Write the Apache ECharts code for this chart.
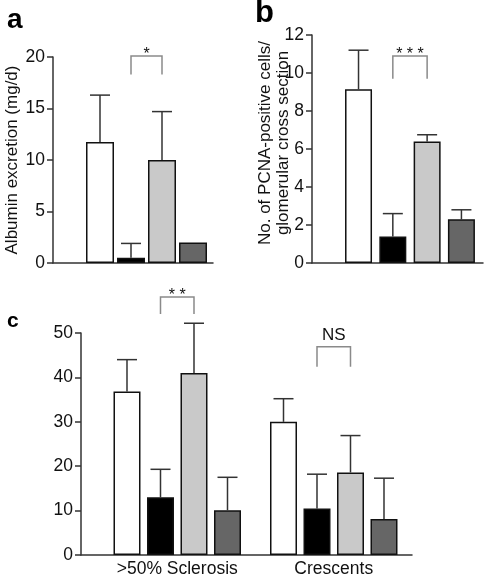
<!DOCTYPE html>
<html><head><meta charset="utf-8">
<script src="https://cdn.jsdelivr.net/npm/echarts@6/dist/echarts.min.js"></script>
<style>html,body{margin:0;padding:0;background:#fff}#c{width:490px;height:578px}</style>
</head><body><div id="c"></div>
<script>
// ---- data ----
const treatments = ['Group 1', 'Group 2', 'Group 3', 'Group 4'];
const albuminMean = [11.75, 0.5, 10.0, 2.0];
const albuminErr  = [4.55, 1.4, 4.7, 0];
const pcnaMean = [9.15, 1.4, 6.4, 2.3];
const pcnaErr  = [2.05, 1.2, 0.35, 0.5];
const cCategories = ['>50% Sclerosis', 'Crescents'];
const sclerosisMean = [36.8, 13.0, 41.0, 10.1];
const sclerosisErr  = [7.2, 6.3, 11.2, 7.4];
const crescentsMean = [30.0, 10.5, 18.6, 8.1];
const crescentsErr  = [5.2, 7.7, 8.3, 9.2];
const yTicksA = [0, 20, 5];
const yTicksB = [0, 12, 2];
const yTicksC = [0, 50, 10];
// significance brackets: [group, leftBar, rightBar, top, legBottom]
const sigA = [[0, 1, 2, 20.1, 18.3]]; const sigALabels = ['*'];
const sigB = [[0, 1, 2, 10.9, 9.7]]; const sigBLabels = ['* * *'];
const sigC = [[0, 1, 2, 58.1, 54.3], [1, 1, 2, 46.9, 42.4]]; const sigCLabels = ['* *', 'NS'];

// ---- style ----
const FONT = 'Liberation Sans, Arial, Helvetica, sans-serif';
const barColors = ['#ffffff', '#000000', '#c9c9c9', '#666666'];
const axisColor = '#333';
const panels = [
  { grid: {left: 53, top: 57, width: 160, height: 206}, xMin: -0.935, xMax: 0.665, bw: 28, gap: 3/28,
    means: [albuminMean], errs: [albuminErr], yt: yTicksA, sig: sigA, sigLabels: sigALabels,
    name: 'Albumin excretion (mg/d)', nameGap: 31, nameSize: 17, nameLH: 20, namePad: [0, 0, 0, 0] },
  { grid: {left: 312, top: 35, width: 171, height: 228}, xMin: -0.4025, xMax: 0.3, bw: 27, gap: 7.3/27,
    means: [pcnaMean], errs: [pcnaErr], yt: yTicksB, sig: sigB, sigLabels: sigBLabels,
    name: 'No. of PCNA-positive cells/\nglomerular cross section', nameGap: 20, nameSize: 17, nameLH: 18, namePad: [0, 0, 0, 12] },
  { grid: {left: 81, top: 333, width: 331, height: 223}, xMin: -0.615, xMax: 1.5, bw: 27, gap: 6.5/27,
    means: [sclerosisMean, crescentsMean], errs: [sclerosisErr, crescentsErr], yt: yTicksC, sig: sigC, sigLabels: sigCLabels,
    name: '', nameGap: 0, nameSize: 17, nameLH: 20, namePad: [0, 0, 0, 0], cats: cCategories }
];

const grid = [], xAxis = [], yAxis = [], series = [];
panels.forEach((p, pi) => {
  grid.push(Object.assign({containLabel: false}, p.grid));
  const xa = {
    gridIndex: pi, type: 'value', min: p.xMin, max: p.xMax,
    axisLine: {show: true, onZero: false, lineStyle: {color: axisColor, width: 1.5}},
    axisTick: {show: false}, splitLine: {show: false},
    axisLabel: {show: false}
  };
  if (p.cats) {
    xa.axisLabel = {show: true, customValues: p.cats.map((c, i) => i),
      formatter: v => p.cats[Math.round(v)], fontSize: 17.5, color: '#111', fontFamily: FONT, margin: 5};
  }
  xAxis.push(xa);
  yAxis.push({
    gridIndex: pi, type: 'value', min: p.yt[0], max: p.yt[1], interval: p.yt[2],
    axisLine: {show: true, onZero: false, lineStyle: {color: axisColor, width: 1.5}},
    axisTick: {show: true, length: 6, lineStyle: {color: axisColor, width: 1.5}},
    axisLabel: {fontSize: 17.5, color: '#111', fontFamily: FONT, margin: 8},
    splitLine: {show: false},
    name: p.name, nameLocation: 'middle', nameGap: p.nameGap, nameMoveOverlap: false,
    nameTextStyle: {fontSize: p.nameSize, color: '#111', fontFamily: FONT, lineHeight: p.nameLH, padding: p.namePad}
  });
  const pitch = p.bw * (1 + p.gap);
  treatments.forEach((t, j) => {
    series.push({
      type: 'bar', name: t, xAxisIndex: pi, yAxisIndex: pi,
      barWidth: p.bw, barGap: (p.gap * 100) + '%',
      data: p.means.map((m, g) => [g, m[j]]),
      itemStyle: {color: barColors[j], borderColor: '#111', borderWidth: 1.5},
      z: 2
    });
  });
  // error bars
  const errData = [];
  p.means.forEach((m, g) => m.forEach((v, j) => errData.push([g, j, v, p.errs[g][j]])));
  series.push({
    type: 'custom', xAxisIndex: pi, yAxisIndex: pi, z: 1, clip: false,
    data: errData,
    renderItem: (params, api) => {
      const g = api.value(0), j = api.value(1), v = api.value(2), e = api.value(3);
      if (!(e > 0)) return null;
      const off = (j - 1.5) * pitch;
      const base = api.coord([g, v]);
      const top = api.coord([g, v + e]);
      const x = base[0] + off;
      const half = 10;
      const st = {stroke: '#333', lineWidth: 1.5};
      return {type: 'group', children: [
        {type: 'line', shape: {x1: x, y1: base[1], x2: x, y2: top[1]}, style: st},
        {type: 'line', shape: {x1: x - half, y1: top[1], x2: x + half, y2: top[1]}, style: st}
      ]};
    },
    encode: {x: 0, y: 2}
  });
  // significance brackets
  series.push({
    type: 'custom', xAxisIndex: pi, yAxisIndex: pi, z: 3, clip: false,
    data: p.sig,
    renderItem: (params, api) => {
      const g = api.value(0), l = api.value(1), r = api.value(2), tp = api.value(3), bt = api.value(4);
      const c = api.coord([g, tp]);
      const b = api.coord([g, bt]);
      const xl = c[0] + (l - 1.5) * pitch, xr = c[0] + (r - 1.5) * pitch;
      const label = p.sigLabels[params.dataIndex];
      const isStar = label.indexOf('*') >= 0;
      return {type: 'group', children: [
        {type: 'polyline', shape: {points: [[xl, b[1]], [xl, c[1]], [xr, c[1]], [xr, b[1]]]},
         style: {stroke: '#8a8a8a', lineWidth: 1.5, fill: null}},
        {type: 'text', style: {text: label, x: (xl + xr) / 2, y: c[1] + (isStar ? 7 : -3),
          align: 'center', verticalAlign: 'bottom', fontSize: isStar ? 16 : 17, fill: '#111', fontFamily: FONT}}
      ]};
    },
    encode: {x: 0, y: 3}
  });
});

const chart = echarts.init(document.getElementById('c'), null, {renderer: 'canvas'});
chart.setOption({
  animation: false,
  backgroundColor: '#fff',
  grid, xAxis, yAxis, series,
  graphic: [
    {type: 'text', left: 7, top: 6, style: {text: 'a', fontSize: 28, fontWeight: 'bold', fill: '#000', fontFamily: FONT}},
    {type: 'text', left: 255, top: -2, style: {text: 'b', fontSize: 31, fontWeight: 'bold', fill: '#000', fontFamily: FONT}},
    {type: 'text', left: 7, top: 311, style: {text: 'c', fontSize: 21, fontWeight: 'bold', fill: '#000', fontFamily: FONT}}
  ]
});
</script></body></html>
